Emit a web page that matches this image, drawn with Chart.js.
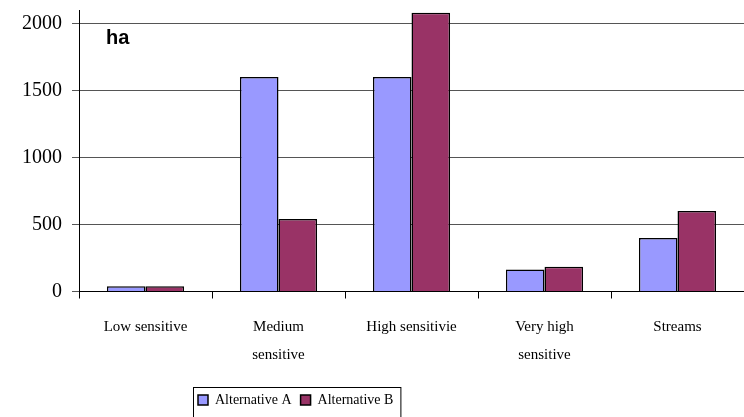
<!DOCTYPE html>
<html>
<head>
<meta charset="utf-8">
<script src="https://cdn.jsdelivr.net/npm/chart.js@4/dist/chart.umd.min.js"></script>
<style>
  html, body { margin: 0; padding: 0; background: #fff; }
  #wrap { width: 744px; height: 417px; }
</style>
</head>
<body>
<div id="wrap"><canvas id="chart" width="744" height="417"></canvas></div>
<script>
// categories and values (hectares)
const categories = ['Low sensitive', ['Medium', 'sensitive'], 'High sensitivie', ['Very high', 'sensitive'], 'Streams'];
const altA = [40, 1600, 1600, 165, 400];
const altB = [40, 540, 2080, 185, 600];
const yTickValues = [0, 500, 1000, 1500, 2000];
const unitLabel = 'ha';

// draws the "ha" note and the boxed legend frame
const extrasPlugin = {
  id: 'extras',
  beforeDraw(chart) {
    // legend sits left of centre in the original
    const lg = chart.legend;
    lg.left = 198 - lg.options.labels.padding;
  },
  afterDraw(chart) {
    const ctx = chart.ctx;
    const area = chart.chartArea;
    ctx.save();
    ctx.font = 'bold 20px "Liberation Sans", Arial, sans-serif';
    ctx.fillStyle = '#000';
    ctx.textBaseline = 'alphabetic';
    ctx.fillText(unitLabel, area.left + 27, 44);

    // frame around the legend items
    const lg = chart.legend;
    const x0 = 193.5;
    const x1 = 198 + lg.lineWidths[0] - 1.5;
    ctx.strokeStyle = '#000';
    ctx.lineWidth = 1;
    ctx.strokeRect(x0, Math.round(lg.top) + 3.5, x1 - x0, lg.height + 10);
    ctx.restore();
  }
};

new Chart('chart', {
  type: 'bar',
  data: {
    labels: categories,
    datasets: [
      {
        label: 'Alternative A',
        data: altA,
        backgroundColor: '#9999FF',
        borderColor: '#000',
        borderWidth: 1.5
      },
      {
        label: 'Alternative B',
        data: altB,
        backgroundColor: '#993366',
        borderColor: '#000',
        borderWidth: 1.5
      }
    ]
  },
  options: {
    responsive: false,
    animation: false,
    layout: { padding: { left: 12, right: 0, top: 10, bottom: 0 } },
    categoryPercentage: 0.58,
    barPercentage: 1.0,
    plugins: {
      tooltip: { enabled: false },
      legend: {
        position: 'bottom',
        align: 'start',
        labels: {
          color: '#000',
          font: { family: '"Liberation Serif", "Times New Roman", serif', size: 14 },
          boxWidth: 10,
          boxHeight: 10,
          padding: 9
        }
      }
    },
    scales: {
      x: {
        grid: {
          offset: true,
          drawOnChartArea: false,
          drawTicks: true,
          tickLength: 7,
          color: '#000'
        },
        border: { color: '#000', width: 1 },
        ticks: {
          color: '#000',
          padding: 15,
          maxRotation: 0,
          autoSkip: false,
          font: { family: '"Liberation Serif", "Times New Roman", serif', size: 15, lineHeight: 1.85 }
        }
      },
      y: {
        min: 0,
        max: 2100,
        afterBuildTicks(scale) {
          scale.ticks = yTickValues.map(v => ({ value: v }));
        },
        afterFit(scale) {
          // the axis runs up to the top edge; no room kept for the top label
          scale.paddingTop = 0;
        },
        grid: {
          color: '#555',
          drawTicks: true,
          tickLength: 7
        },
        border: { color: '#000', width: 1 },
        ticks: {
          color: '#000',
          padding: 10,
          callback: v => String(v),
          font: { family: '"Liberation Serif", "Times New Roman", serif', size: 20 }
        }
      }
    }
  },
  plugins: [extrasPlugin]
});
</script>
</body>
</html>
